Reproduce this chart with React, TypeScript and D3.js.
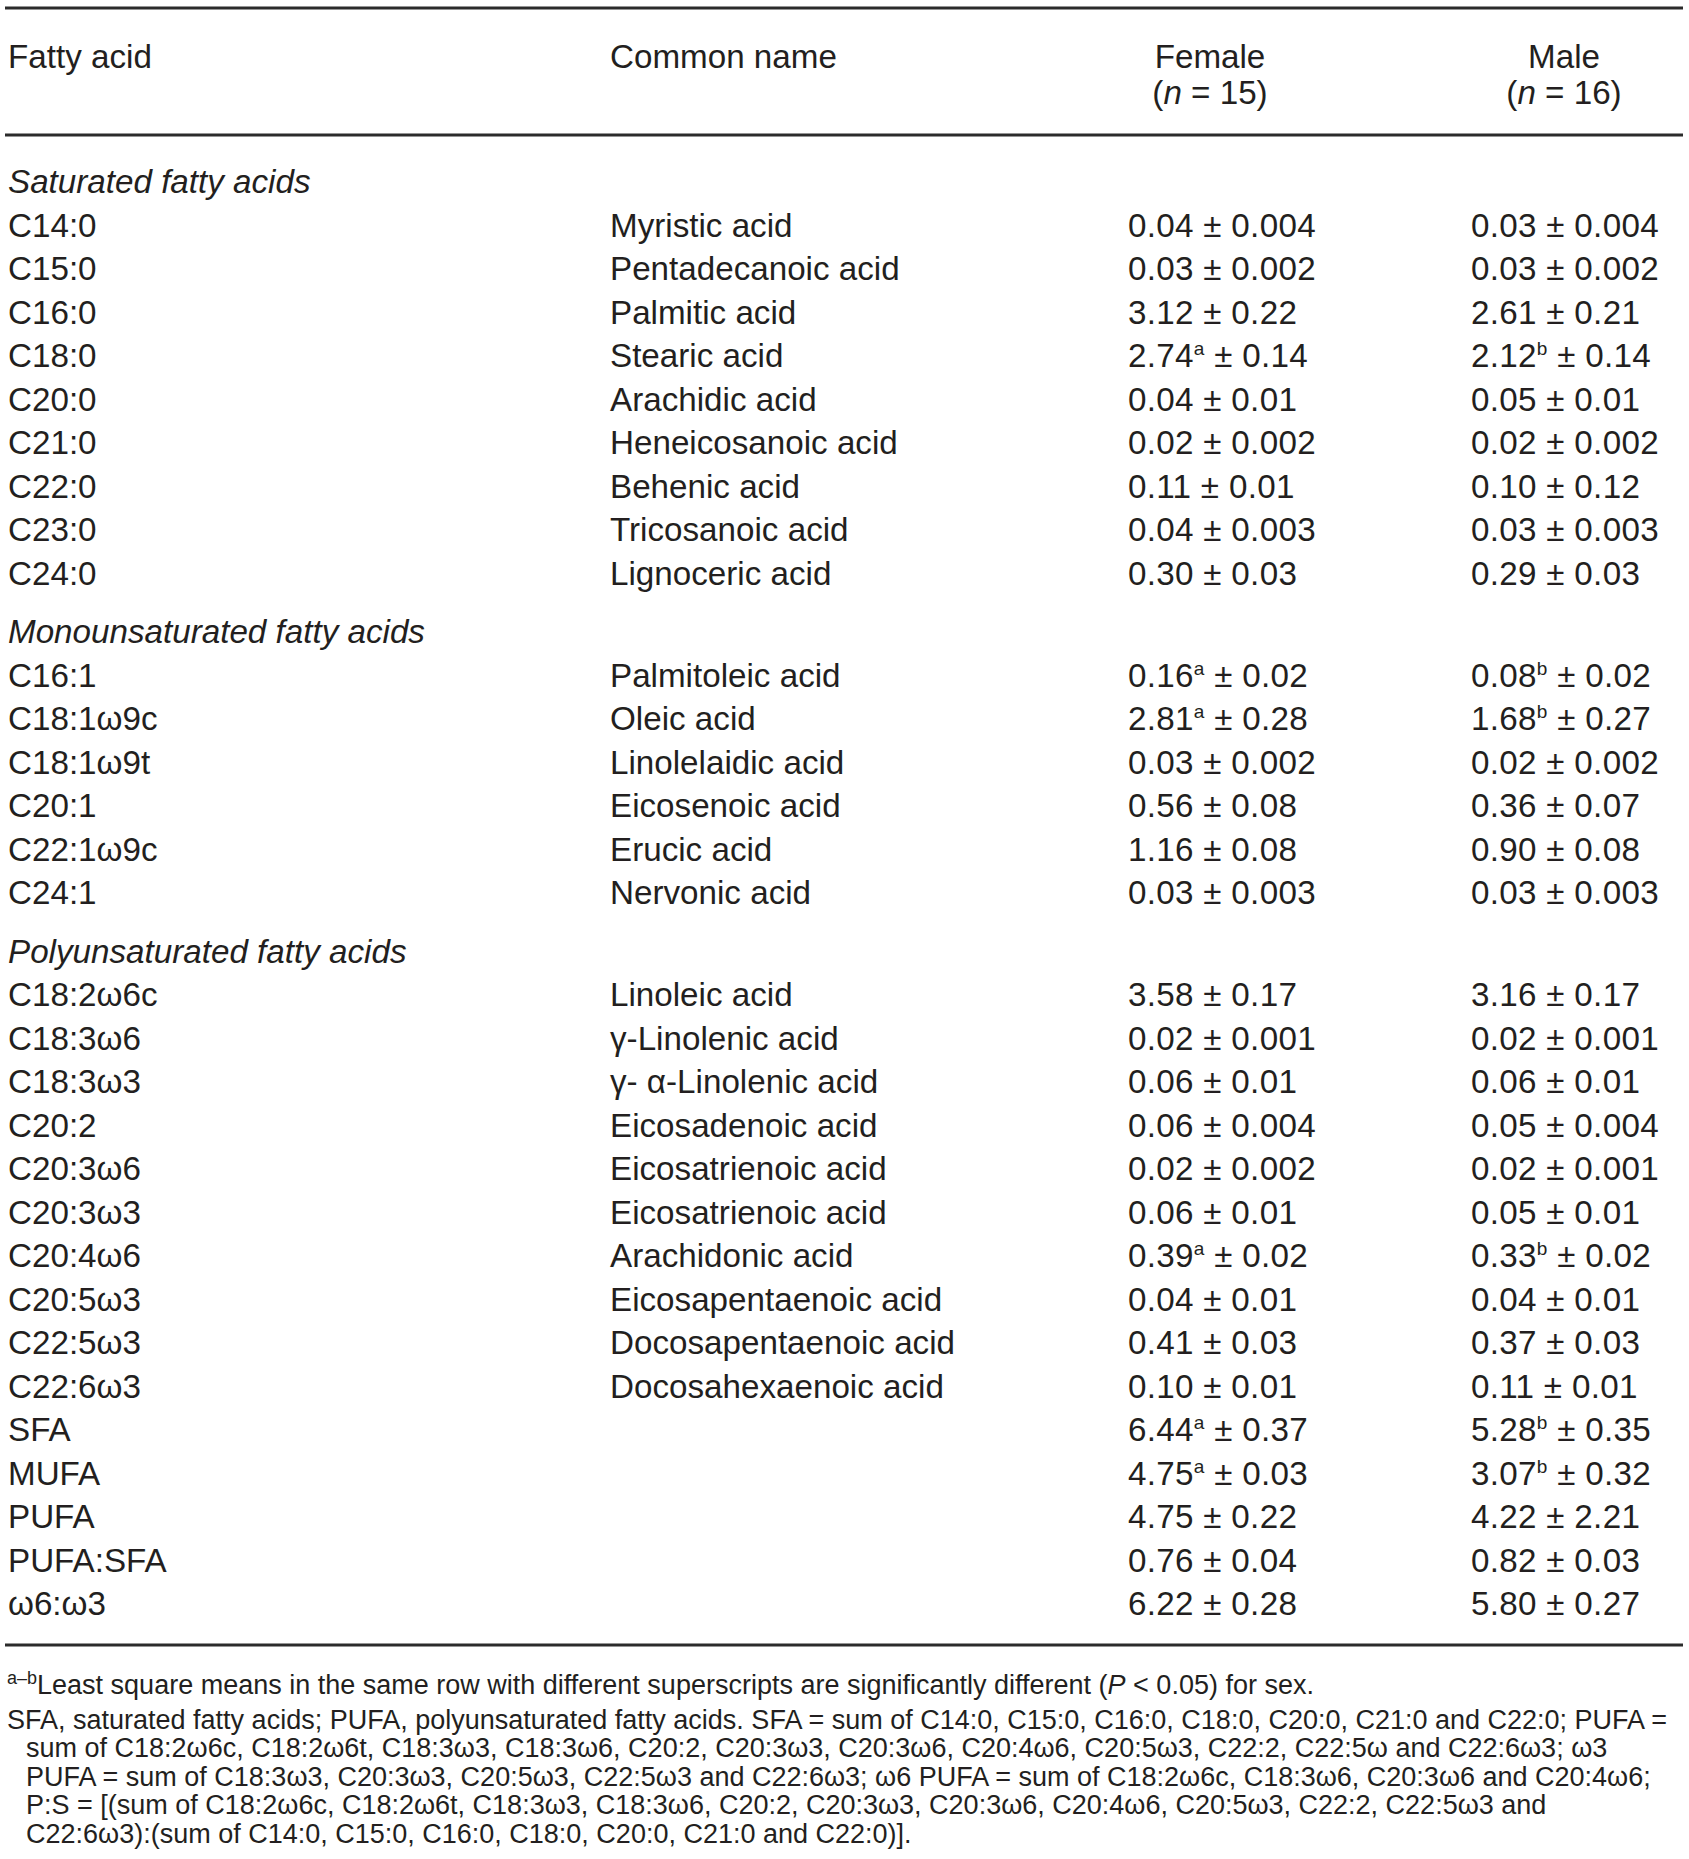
import * as React from "react";
import * as d3 from "d3";

// table content
const sectionTitles = ["Saturated fatty acids", "Monounsaturated fatty acids", "Polyunsaturated fatty acids"];

const saturatedCodes = ["C14:0", "C15:0", "C16:0", "C18:0", "C20:0", "C21:0", "C22:0", "C23:0", "C24:0"];
const saturatedNames = ["Myristic acid", "Pentadecanoic acid", "Palmitic acid", "Stearic acid", "Arachidic acid",
  "Heneicosanoic acid", "Behenic acid", "Tricosanoic acid", "Lignoceric acid"];
const saturatedFemale = ["0.04 ± 0.004", "0.03 ± 0.002", "3.12 ± 0.22", "2.74a ± 0.14", "0.04 ± 0.01",
  "0.02 ± 0.002", "0.11 ± 0.01", "0.04 ± 0.003", "0.30 ± 0.03"];
const saturatedMale = ["0.03 ± 0.004", "0.03 ± 0.002", "2.61 ± 0.21", "2.12b ± 0.14", "0.05 ± 0.01",
  "0.02 ± 0.002", "0.10 ± 0.12", "0.03 ± 0.003", "0.29 ± 0.03"];

const monoCodes = ["C16:1", "C18:1ω9c", "C18:1ω9t", "C20:1", "C22:1ω9c", "C24:1"];
const monoNames = ["Palmitoleic acid", "Oleic acid", "Linolelaidic acid", "Eicosenoic acid", "Erucic acid", "Nervonic acid"];
const monoFemale = ["0.16a ± 0.02", "2.81a ± 0.28", "0.03 ± 0.002", "0.56 ± 0.08", "1.16 ± 0.08", "0.03 ± 0.003"];
const monoMale = ["0.08b ± 0.02", "1.68b ± 0.27", "0.02 ± 0.002", "0.36 ± 0.07", "0.90 ± 0.08", "0.03 ± 0.003"];

const polyCodes = ["C18:2ω6c", "C18:3ω6", "C18:3ω3", "C20:2", "C20:3ω6", "C20:3ω3", "C20:4ω6", "C20:5ω3", "C22:5ω3", "C22:6ω3"];
const polyNames = ["Linoleic acid", "γ-Linolenic acid", "γ- α-Linolenic acid", "Eicosadenoic acid", "Eicosatrienoic acid",
  "Eicosatrienoic acid", "Arachidonic acid", "Eicosapentaenoic acid", "Docosapentaenoic acid", "Docosahexaenoic acid"];
const polyFemale = ["3.58 ± 0.17", "0.02 ± 0.001", "0.06 ± 0.01", "0.06 ± 0.004", "0.02 ± 0.002", "0.06 ± 0.01",
  "0.39a ± 0.02", "0.04 ± 0.01", "0.41 ± 0.03", "0.10 ± 0.01"];
const polyMale = ["3.16 ± 0.17", "0.02 ± 0.001", "0.06 ± 0.01", "0.05 ± 0.004", "0.02 ± 0.001", "0.05 ± 0.01",
  "0.33b ± 0.02", "0.04 ± 0.01", "0.37 ± 0.03", "0.11 ± 0.01"];

const summaryCodes = ["SFA", "MUFA", "PUFA", "PUFA:SFA", "ω6:ω3"];
const summaryFemale = ["6.44a ± 0.37", "4.75a ± 0.03", "4.75 ± 0.22", "0.76 ± 0.04", "6.22 ± 0.28"];
const summaryMale = ["5.28b ± 0.35", "3.07b ± 0.32", "4.22 ± 2.21", "0.82 ± 0.03", "5.80 ± 0.27"];

const groupLabels = ["Female", "Male"];
const groupSizes = [15, 16];

const footnoteLines = [
  "SFA, saturated fatty acids; PUFA, polyunsaturated fatty acids. SFA = sum of C14:0, C15:0, C16:0, C18:0, C20:0, C21:0 and C22:0; PUFA =",
  "sum of C18:2ω6c, C18:2ω6t, C18:3ω3, C18:3ω6, C20:2, C20:3ω3, C20:3ω6, C20:4ω6, C20:5ω3, C22:2, C22:5ω and C22:6ω3; ω3",
  "PUFA = sum of C18:3ω3, C20:3ω3, C20:5ω3, C22:5ω3 and C22:6ω3; ω6 PUFA = sum of C18:2ω6c, C18:3ω6, C20:3ω6 and C20:4ω6;",
  "P:S = [(sum of C18:2ω6c, C18:2ω6t, C18:3ω3, C18:3ω6, C20:2, C20:3ω3, C20:3ω6, C20:4ω6, C20:5ω3, C22:2, C22:5ω3 and",
  "C22:6ω3):(sum of C14:0, C15:0, C16:0, C18:0, C20:0, C21:0 and C22:0)].",
];

const width = 1689;
const height = 1859;
const ink = "#231f20";
const font = "'Liberation Sans', Arial, Helvetica, sans-serif";
const fontSize = 33.2;
const noteSize = 27;

function parseValue(s: string) {
  const m = s.match(/^([\d.]+)([ab]?) ± ([\d.]+)$/);
  return m ? { mean: m[1], sup: m[2], se: m[3] } : { mean: s, sup: "", se: "" };
}

type Row = { kind: "section" | "data"; slot: number; section: number; code: string; name?: string; female?: string; male?: string };

function buildRows(): Row[] {
  const rows: Row[] = [];
  let slot = 0;
  const blocks = [
    [saturatedCodes, saturatedNames, saturatedFemale, saturatedMale],
    [monoCodes, monoNames, monoFemale, monoMale],
    [polyCodes, polyNames, polyFemale, polyMale],
  ];
  blocks.forEach((b, si) => {
    rows.push({ kind: "section", slot: slot++, section: si, code: sectionTitles[si] });
    b[0].forEach((c, i) => {
      rows.push({ kind: "data", slot: slot++, section: si, code: c, name: b[1][i], female: b[2][i], male: b[3][i] });
    });
  });
  summaryCodes.forEach((c, i) => {
    rows.push({ kind: "data", slot: slot++, section: 2, code: c, name: "", female: summaryFemale[i], male: summaryMale[i] });
  });
  return rows;
}

const ValueText = ({ x, y, value }: { x: number; y: number; value: string }) => {
  const v = parseValue(value);
  return (
    <text x={x} y={y} fontSize={fontSize} fill={ink} letterSpacing={0.3}>
      {v.mean}
      {v.sup && <tspan fontSize={19} dy={-12}>{v.sup}</tspan>}
      {v.sup ? <tspan dy={12}>{" ± " + v.se}</tspan> : " ± " + v.se}
    </text>
  );
};

export default function App() {
  const rows = buildRows();
  const slotCount = d3.max(rows, (r) => r.slot)! + 1;

  // baseline of each row: a fixed pitch plus an extra gap before each section
  const y = d3.scaleLinear().domain([0, 1]).range([193, 236.5]);
  const sectionGap = 15;
  const rowY = (r: Row) => y(r.slot) + r.section * sectionGap;

  const col = d3.scaleOrdinal<string, number>()
    .domain(["code", "name", "female", "male"])
    .range([8, 610, 1128, 1471]);
  const headerCenter = d3.scaleOrdinal<string, number>().domain(groupLabels).range([1210, 1564]);

  const lastY = y(slotCount - 1) + 2 * sectionGap;
  const ruleX = [5, 1683];
  const rules = [8, 135, lastY + 30];

  const footY = d3.scaleLinear().domain([0, 1]).range([1729, 1757.4]);

  return (
    <svg width={width} height={height} style={{ position: "absolute", left: 0, top: 0, background: "#fff" }}
      fontFamily={font}>
      {rules.map((ry, i) => (
        <line key={i} x1={ruleX[0]} x2={ruleX[1]} y1={ry} y2={ry} stroke="#2b2b2b" strokeWidth={3} />
      ))}

      {/* header */}
      <text x={col("code")} y={68} fontSize={fontSize} fill={ink}>Fatty acid</text>
      <text x={col("name")} y={68} fontSize={fontSize} fill={ink}>Common name</text>
      {groupLabels.map((g, i) => (
        <g key={g}>
          <text x={headerCenter(g)} y={68} fontSize={fontSize} fill={ink} textAnchor="middle">{g}</text>
          <text x={headerCenter(g)} y={104} fontSize={fontSize} fill={ink} textAnchor="middle">
            (<tspan fontStyle="italic">n</tspan> = {groupSizes[i]})
          </text>
        </g>
      ))}

      {/* body */}
      {rows.map((r, i) =>
        r.kind === "section" ? (
          <text key={i} x={col("code")} y={rowY(r)} fontSize={fontSize} fill={ink} fontStyle="italic">{r.code}</text>
        ) : (
          <g key={i}>
            <text x={col("code")} y={rowY(r)} fontSize={fontSize} fill={ink}>{r.code}</text>
            {r.name && <text x={col("name")} y={rowY(r)} fontSize={fontSize} fill={ink}>{r.name}</text>}
            <ValueText x={col("female")} y={rowY(r)} value={r.female!} />
            <ValueText x={col("male")} y={rowY(r)} value={r.male!} />
          </g>
        )
      )}

      {/* footnotes */}
      <text x={7} y={1694} fontSize={noteSize} fill={ink}>
        <tspan fontSize={18} dy={-10}>a–b</tspan>
        <tspan dy={10}>Least square means in the same row with different superscripts are significantly different (</tspan>
        <tspan fontStyle="italic">P</tspan>
        <tspan>{" < 0.05) for sex."}</tspan>
      </text>
      {footnoteLines.map((l, i) => (
        <text key={i} x={i === 0 ? 7 : 26} y={footY(i)} fontSize={noteSize} fill={ink}>{l}</text>
      ))}
    </svg>
  );
}
